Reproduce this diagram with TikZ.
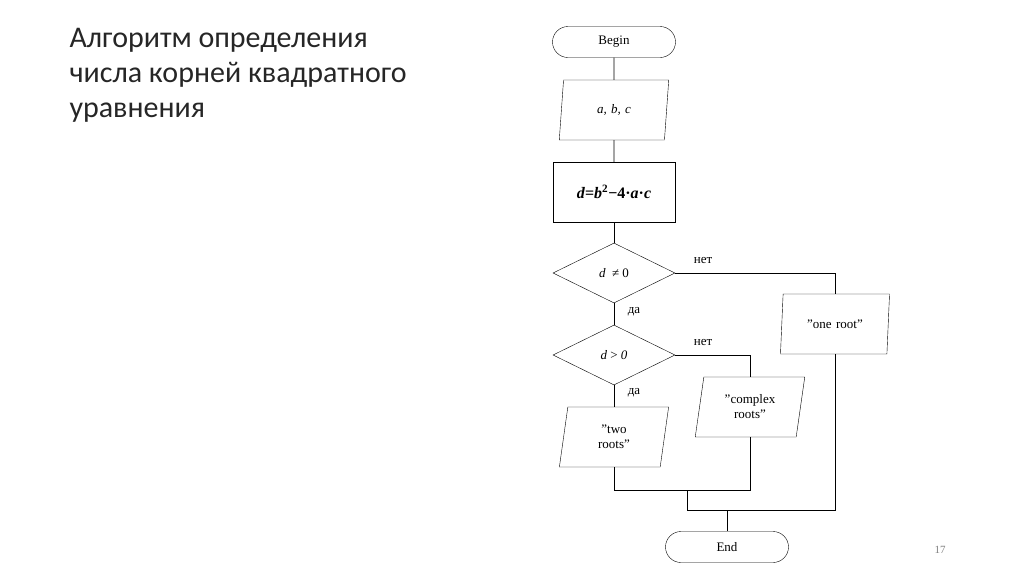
\documentclass[tikz,border=0pt]{standalone}
\usepackage{fontspec}
\setmainfont{Liberation Serif}
\newfontfamily\titlefont{Carlito}
\usetikzlibrary{shapes.geometric,shapes.misc}
\begin{document}
\begin{tikzpicture}[x=1pt,y=-1pt,
  every node/.style={font=\fontsize{13}{15}\selectfont},
  term/.style={draw,rounded rectangle,minimum width=123pt,minimum height=31pt,inner sep=0pt},
  io/.style={draw,trapezium,trapezium left angle=77,trapezium right angle=103,minimum width=110pt,minimum height=60pt,inner sep=0pt,align=center,trapezium stretches=true,text width=60pt},
  proc/.style={draw,minimum width=122pt,minimum height=60pt,inner sep=0pt},
  dec/.style={draw,diamond,aspect=2.03,minimum width=122pt,minimum height=60pt,inner sep=0pt},
  lab/.style={font=\fontsize{13}{15}\selectfont},
  line/.style={draw,line width=0.8pt}]
\useasboundingbox (0,0) rectangle (1024,574);
\node[anchor=north west,align=left,font=\titlefont\fontsize{30}{35}\selectfont,text=black!85] (title) at (66,25) {Алгоритм определения\\числа корней квадратного\\уравнения};
\node[text=gray,font=\fontsize{11}{13}\selectfont] (pg) at (940,550) {17};
\node[term] (b) at (614,42) {Begin};
\node[io] (inp) at (614,110) {\itshape a, b, c};
\node[proc,font=\fontsize{16}{18}\selectfont\bfseries] (p) at (614,192) {\textit{d}=\textit{b}\textsuperscript{2}−4·\textit{a}·\textit{c}};
\node[dec] (d1) at (614,273) {\textit{d}\ \ ≠ 0};
\node[dec] (d2) at (614,355) {\textit{d} > \textit{0}};
\node[io] (two) at (614,437) {"two\\roots"};
\node[io] (cx) at (750,407) {"complex\\roots"};
\node[io,text width=80pt] (one) at (835,324) {"one root"};
\node[term] (e) at (727,547) {End};
\coordinate (m1) at (687,490);
\coordinate (m2) at (727,510);
\draw[line] (b)--(inp); \draw[line] (inp)--(p); \draw[line] (p)--(d1);
\draw[line] (d1)--(d2); \draw[line] (d2)--(two);
\draw[line] (d1.east) -| (one.north);
\draw[line] (d2.east) -| (cx.north);
\draw[line] (two.south) |- (m1) -| (cx.south);
\draw[line] (m1) -- (687,510) -| (one.south);
\draw[line] (m2) -- (e.north);
\node[lab] (n1) at (703,260) {нет};
\node[lab] (y1) at (634,312) {да};
\node[lab] (n2) at (703,342) {нет};
\node[lab] (y2) at (634,393) {да};
\end{tikzpicture}
\end{document}
